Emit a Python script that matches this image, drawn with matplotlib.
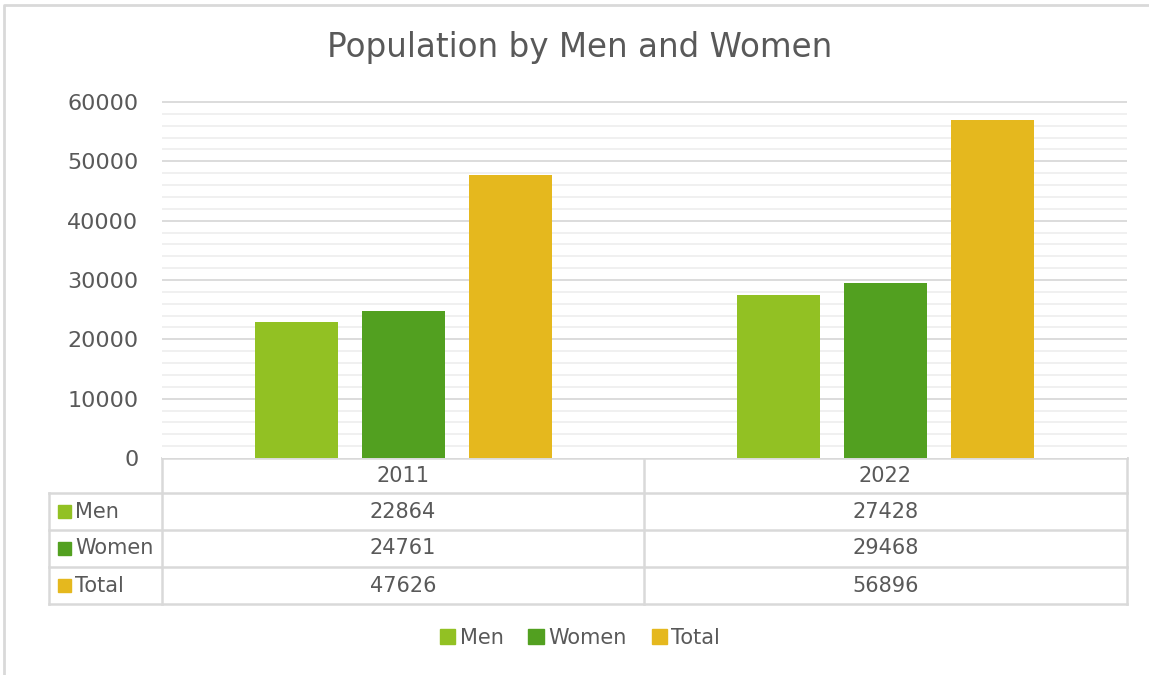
import matplotlib.pyplot as plt
import matplotlib.patches as mpatches
import numpy as np

years = ["2011", "2022"]
series = ["Men", "Women", "Total"]
men = [22864, 27428]
women = [24761, 29468]
total = [47626, 56896]
colors = ["#92C123", "#52A020", "#E5B81E"]

W, H = 1149, 675
txt = "#595959"
grid = "#D9D9D9"
plt.rcParams['font.family'] = ['DejaVu Sans']

fig = plt.figure(figsize=(W / 100, H / 100), dpi=100)

# page coords helper axes (pixels)
bg = fig.add_axes([0, 0, 1, 1])
bg.set_xlim(0, W)
bg.set_ylim(H, 0)
bg.axis("off")

# chart border (partially cropped)
bg.plot([4, 4, W + 5], [H + 5, 5, 5], color=grid, lw=2)

# plot area
x0, x1, y0, y1 = 162, 1127, 458, 102
ax = fig.add_axes([x0 / W, 1 - y0 / H, (x1 - x0) / W, (y0 - y1) / H])
vals = [men, women, total]
x = np.arange(len(years))
bw = 0.172
step = 0.222
for i, (v, c) in enumerate(zip(vals, colors)):
    ax.bar(x + (i - 1) * step, v, width=bw, color=c, zorder=3)
ax.set_xlim(-0.5, 1.5)
ax.set_ylim(0, 60000)
major = np.arange(0, 60001, 10000)
minor = np.arange(0, 60001, 2000)
ax.set_yticks(major)
ax.hlines([m for m in minor if m % 10000], -0.5, 1.5, color="#EFEFEF", lw=1.3, zorder=0)
ax.hlines(major[1:], -0.5, 1.5, color=grid, lw=1.3, zorder=1, clip_on=False)
ax.tick_params(axis="y", which="both", length=0, labelsize=16, labelcolor=txt, pad=17)
ax.set_xticks([])
for s in ax.spines.values():
    s.set_visible(False)

fig.text(580 / W, 1 - 48 / H, "Population by Men and Women", ha="center", va="center",
         fontsize=23.5, color=txt)

# data table
rows = [458, 493, 530, 567, 604]
colx = [162, 644, 1127]
lc = dict(color=grid, lw=1.8)
bg.plot([x0, x1], [rows[0], rows[0]], **lc)
for r in rows[1:]:
    bg.plot([49, x1], [r, r], **lc)
for cx in colx:
    bg.plot([cx, cx], [rows[0], rows[-1]], **lc)
bg.plot([49, 49], [rows[1], rows[-1]], **lc)
fs = 15
for j, yr in enumerate(years):
    cx = (colx[j] + colx[j + 1]) / 2
    bg.text(cx, (rows[0] + rows[1]) / 2, yr, ha="center", va="center", fontsize=fs, color=txt)
for i, (name, v, c) in enumerate(zip(series, vals, colors)):
    cy = (rows[i + 1] + rows[i + 2]) / 2
    bg.add_patch(mpatches.Rectangle((58, cy - 6.5), 13, 13, color=c))
    bg.text(75, cy, name, ha="left", va="center", fontsize=fs, color=txt)
    for j in range(len(years)):
        cx = (colx[j] + colx[j + 1]) / 2
        bg.text(cx, cy, str(v[j]), ha="center", va="center", fontsize=fs, color=txt)

handles = [mpatches.Patch(color=c, label=n) for n, c in zip(series, colors)]
fig.legend(handles=handles, loc="center", bbox_to_anchor=(580 / W, 1 - 638 / H), ncol=3,
           frameon=False, fontsize=15, labelcolor=txt, handlelength=0.75, handleheight=0.75,
           handletextpad=0.2, columnspacing=1.2)

fig.savefig("out.png", dpi=100)
